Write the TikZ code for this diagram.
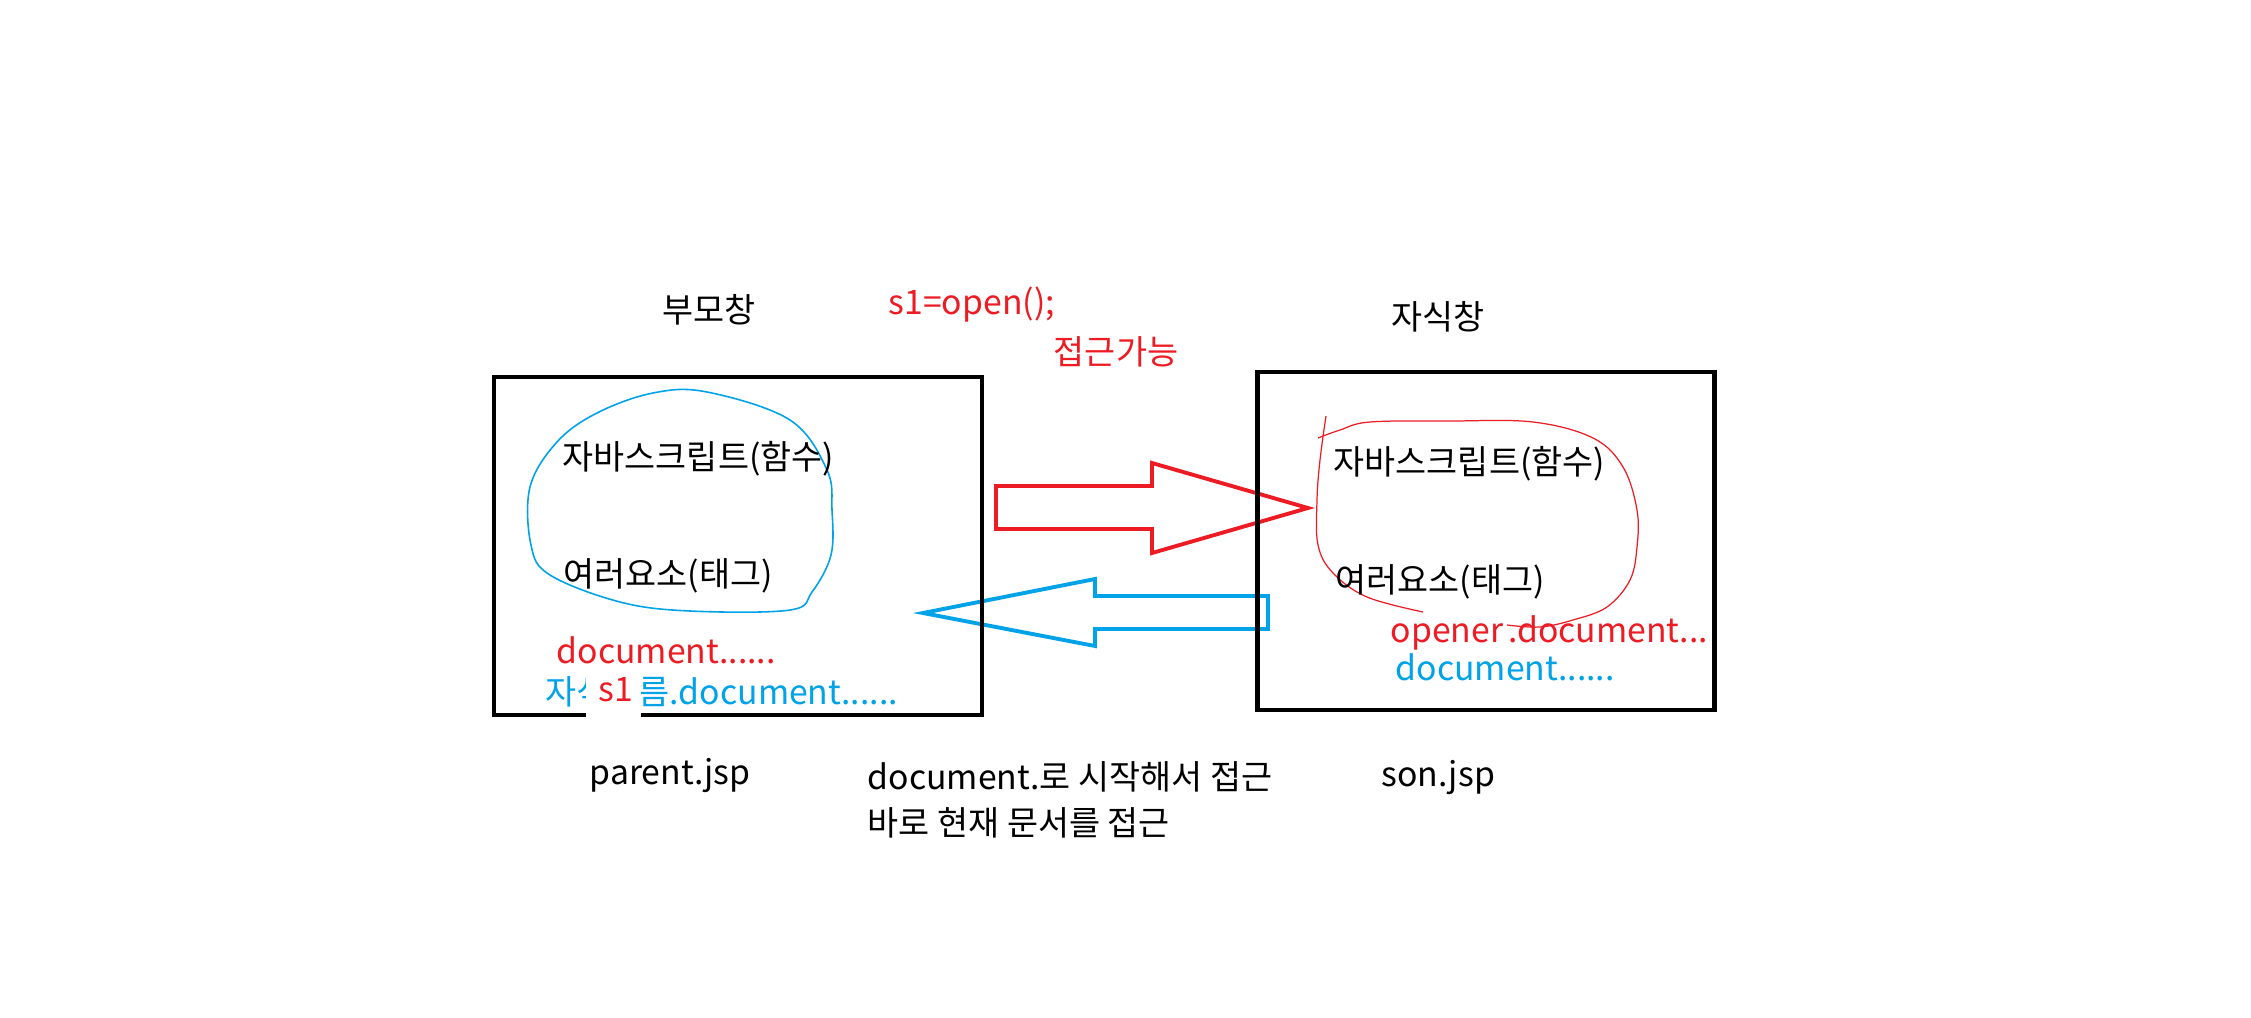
\documentclass[tikz,border=0pt]{standalone}
\usepackage{fontspec}
\setmainfont{Noto Sans CJK KR}
\usepackage{tikz}
\usetikzlibrary{positioning}

\definecolor{paintred}{HTML}{ED1C24}
\definecolor{paintblue}{HTML}{00A2E8}

\begin{document}
\begin{tikzpicture}[x=0.01cm, y=-0.01cm,
    winbox/.style={draw=black, line width=1.3pt, minimum height=3.38cm},
    lbl/.style={inner sep=0pt, anchor=west, font=\fontsize{9.6}{11}\selectfont},
    redtxt/.style={lbl, text=paintred},
    bluetxt/.style={lbl, text=paintblue}]
    \useasboundingbox[fill=white] (0,0) rectangle (2251,1018);

    % Block arrows between the two windows
    \draw[paintred, line width=1.1pt, line join=miter] (996,486) -- (1152,486) -- (1152,463) -- (1308,508)
        -- (1152,553) -- (1152,529) -- (996,529) -- cycle;
    \draw[paintblue, line width=1.1pt, line join=miter] (1268,596) -- (1095,596) -- (1095,579) -- (923,613)
        -- (1095,646) -- (1095,629) -- (1268,629) -- cycle;

    % Windows
    \node[winbox, minimum width=4.88cm] (parent) at (738,546) {};
    \node[winbox, minimum width=4.57cm] (child) at (1486,541) {};

    % Titles
    \node[lbl, anchor=center] (pname) at (709,310) {부모창};
    \node[lbl, anchor=center] (cname) at (1438,317) {자식창};
    \node[redtxt] (openlbl) at (888,305) {s1=open();};
    \node[redtxt, anchor=center] (access) at (1116,352) {접근가능};

    % Hand drawn loops
    \draw[paintblue, line width=0.45pt] plot [smooth cycle, tension=0.6] coordinates {(530,487) (557,442) (597,413)
        (653,393) (707,392) (790,420) (827,470) (832,510) (831,555) (812,592) (790,610) (690,611)
        (620,602) (550,575) (531,545)};
    \draw[paintred, line width=0.35pt] plot [smooth, tension=0.6] coordinates {(1326,416) (1320,460)
        (1317,500) (1318,545) (1333,573) (1367,597) (1423,612)};
    \draw[paintred, line width=0.35pt] plot [smooth, tension=0.6] coordinates {(1318,438) (1340,430)
        (1370,422) (1450,421) (1533,422) (1593,438) (1623,467) (1637,510) (1637,547) (1630,580)
        (1607,607) (1573,620) (1540,627) (1507,625)};

    % Parent window content
    \node[lbl] (pjs) at (562,459) {자바스크립트(함수)};
    \node[lbl] (ptag) at (563,576) {여러요소(태그)};
    \node[redtxt] (pdoc) at (556,650) {document......};
    \node[bluetxt] (pchild) at (545,692) {자식이름.document......};
    \fill[white] (586,668) rectangle (641,724);
    \node[redtxt, anchor=center] (sone) at (616,690) {s1};

    % Child window content
    \node[lbl] (cjs) at (1333,464) {자바스크립트(함수)};
    \node[lbl] (ctag) at (1335,582) {여러요소(태그)};
    \node[redtxt] (copener) at (1390,633) {opener\hspace{0.15em}.document...};
    \node[bluetxt] (cdoc) at (1395,667) {document......};

    % File names and notes
    \node[lbl] (parentjsp) at (589,775) {parent.jsp};
    \node[lbl] (sonjsp) at (1381,777) {son.jsp};
    \node[lbl] (note1) at (867,777) {document.로 시작해서 접근};
    \node[lbl] (note2) at (867,823) {바로 현재 문서를 접근};
\end{tikzpicture}
\end{document}
